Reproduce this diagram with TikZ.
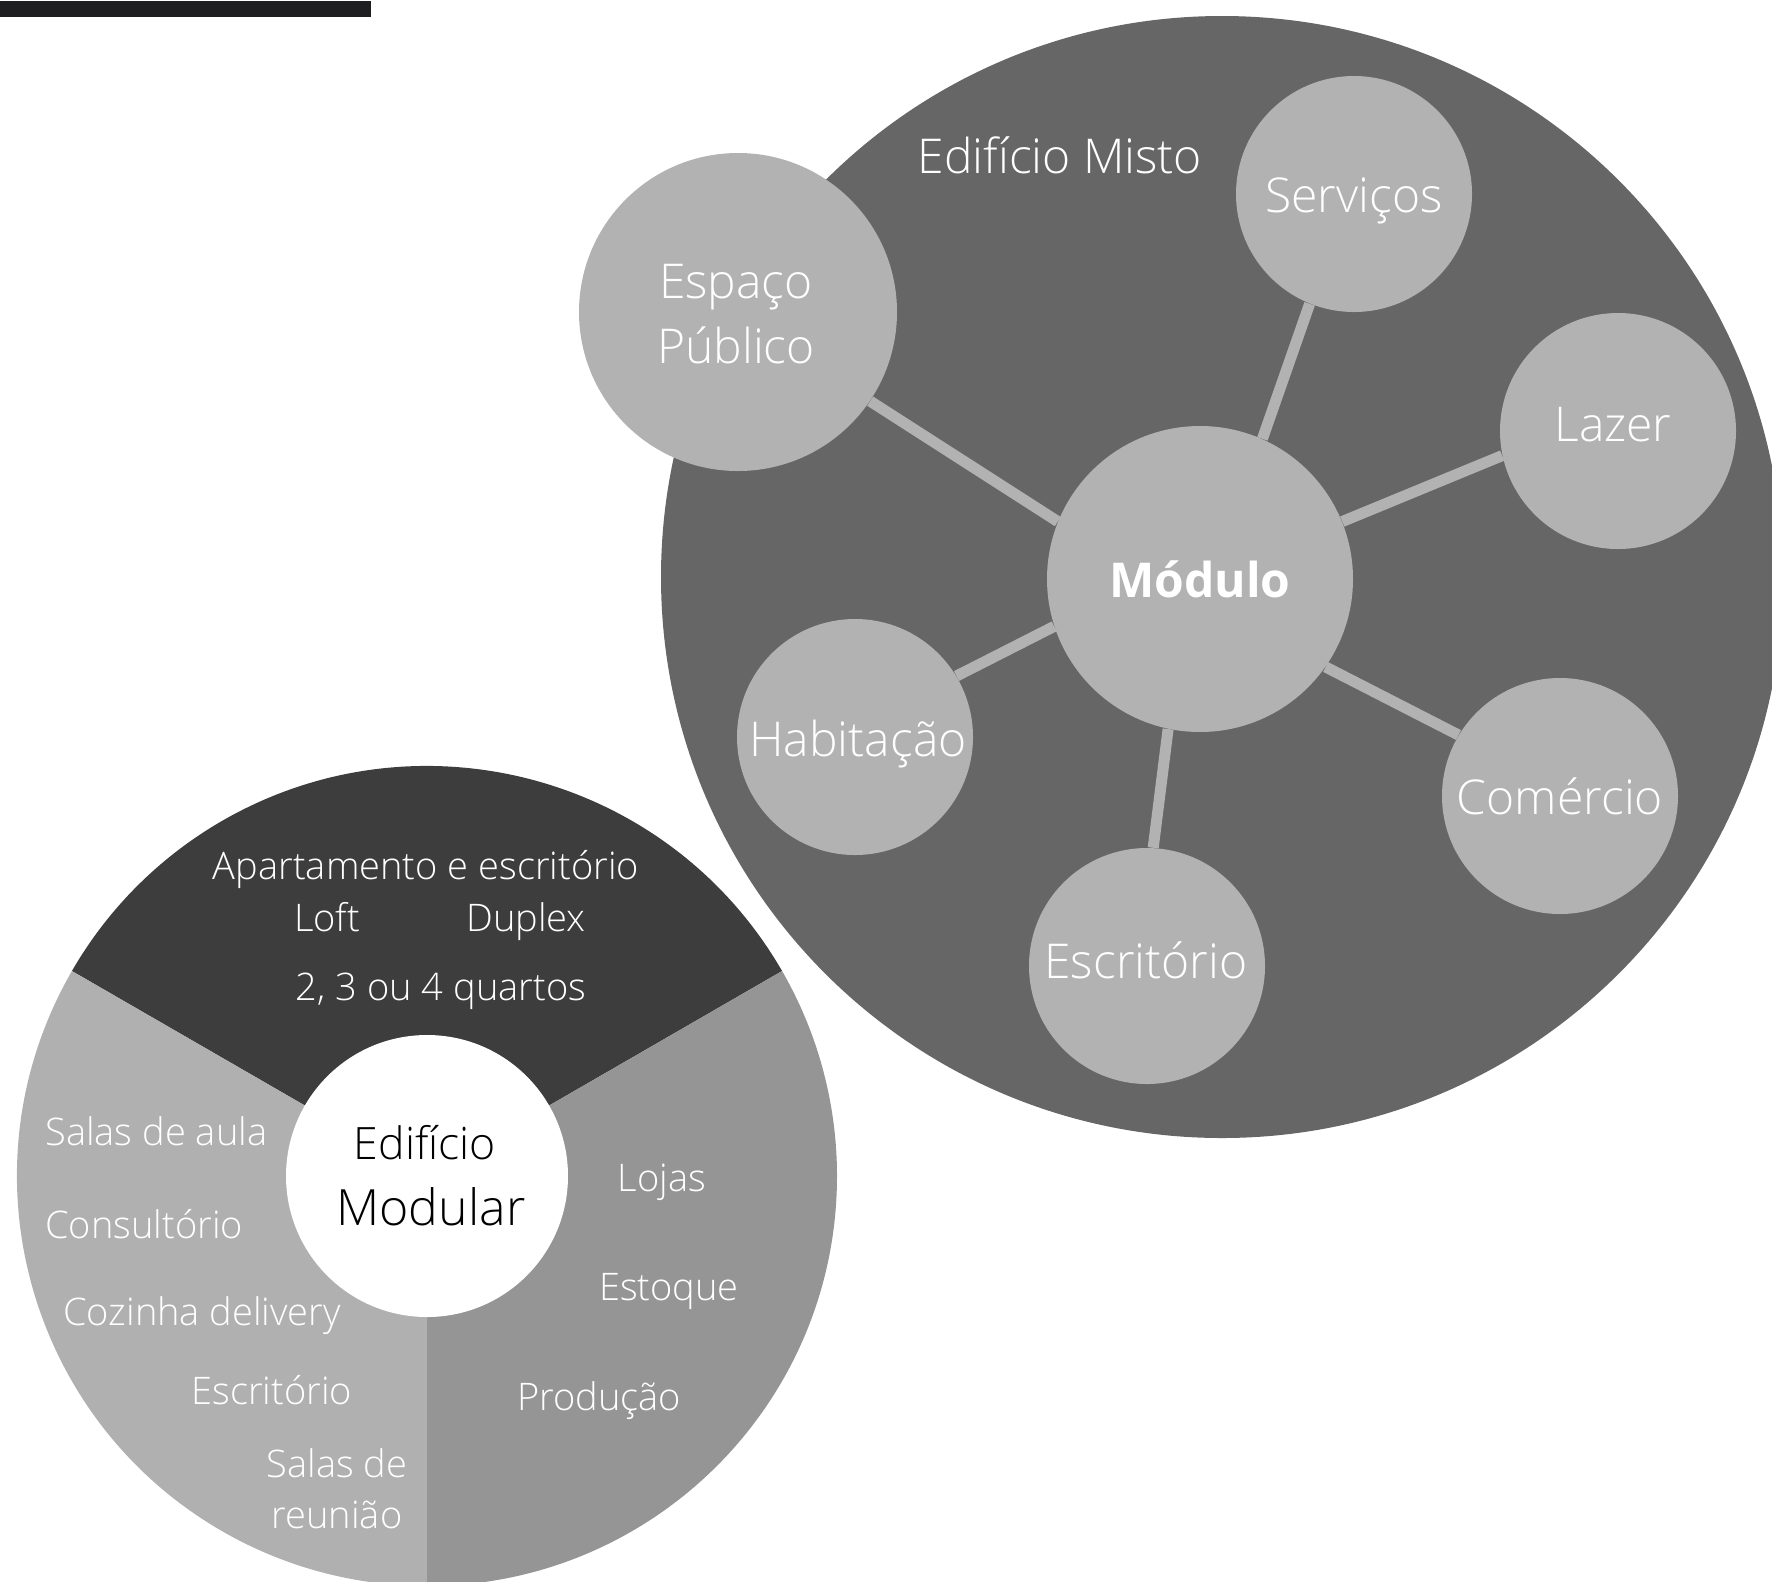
\documentclass[tikz,border=0pt]{standalone}
\usepackage{fontspec}
\setmainfont{Open Sans Light}[BoldFont={Open Sans Bold}]
\definecolor{biggray}{HTML}{666666}
\definecolor{bubblegray}{HTML}{B2B2B2}
\definecolor{topsec}{HTML}{3D3D3D}
\definecolor{leftsec}{HTML}{B0B0B0}
\definecolor{rightsec}{HTML}{959595}
\definecolor{barcol}{HTML}{1F1E21}
\tikzset{
  bubble/.style={circle, fill=bubblegray, inner sep=0pt},
  btext/.style={text=white, inner sep=0pt, align=center,
    font=\fontsize{24}{32.5}\selectfont},
  link/.style={draw=bubblegray, line width=5.5pt},
  lbl/.style={text=white, inner sep=0pt, font=\fontsize{19}{22}\selectfont},
  biglbl/.style={text=white, inner sep=0pt, font=\fontsize{24}{28}\selectfont}
}
\begin{document}
\begin{tikzpicture}[x=0.5pt,y=0.5pt]
\useasboundingbox (0,0) rectangle (1772,-1581);
\clip (0,0) rectangle (1772,-1581);
% top bar
\fill[barcol] (0,-1) rectangle (371,-17);
% big circle
\node[circle, fill=biggray, minimum size=561pt, inner sep=0pt] (misto) at (1222,-577) {};
\node[biglbl] (mistolbl) at (1060,-155) {Edifício Misto};
% bubbles
\node[bubble, minimum size=153pt] (mod) at (1200,-579) {};
\node[bubble, minimum size=159pt] (esp) at (738,-312) {};
\node[bubble, minimum size=118pt] (serv) at (1354,-194) {};
\node[bubble, minimum size=118pt] (laz) at (1618,-431) {};
\node[bubble, minimum size=118pt] (hab) at (855,-737) {};
\node[bubble, minimum size=118pt] (com) at (1560,-796) {};
\node[bubble, minimum size=118pt] (esc) at (1147,-966) {};
% connectors
\draw[link] (esp.326) -- (mod.158);
\draw[link] (serv.248) -- (mod.66);
\draw[link] (laz.192) -- (mod.22);
\draw[link] (hab.31) -- (mod.198);
\draw[link] (com.149) -- (mod.325);
\draw[link] (esc.87) -- (mod.258);
% bubble texts
\node[btext] (modt) at (1200,-579) {\bfseries Módulo};
\node[btext] (espt) at (736,-314) {Espaço\\Público};
\node[btext] (servt) at (1354,-201) {Serviços};
\node[btext] (lazt) at (1613,-425) {Lazer};
\node[btext] (habt) at (858,-744) {Habitação};
\node[btext] (comt) at (1560,-796) {Comércio};
\node[btext] (esct) at (1146,-960) {Escritório};
% pie
\coordinate (pc) at (427,-1176);
\fill[topsec] (pc) -- ++(30:205pt) arc[start angle=30,end angle=150,radius=205pt] -- cycle;
\fill[leftsec] (pc) -- ++(150:205pt) arc[start angle=150,end angle=270,radius=205pt] -- cycle;
\fill[rightsec] (pc) -- ++(270:205pt) arc[start angle=270,end angle=390,radius=205pt] -- cycle;
\node[circle, fill=white, minimum size=141pt, inner sep=0pt] (core) at (pc) {};
\node[inner sep=0pt, font=\fontsize{22.3}{25}\selectfont] (c1) at (425,-1143) {Edifício};
\node[inner sep=0pt, font=\fontsize{25}{28}\selectfont] (c2) at (431,-1207) {Modular};
% top sector texts
\node[lbl] (t1) at (426,-869) {Apartamento e escritório};
\node[lbl] (t2) at (327,-917) {Loft};
\node[lbl] (t3) at (526,-922) {Duplex};
\node[lbl] (t4) at (441,-991) {2, 3 ou 4 quartos};
% left sector texts
\node[lbl, anchor=west] (l1) at (45,-1131) {Salas de aula};
\node[lbl, anchor=west] (l2) at (45,-1224) {Consultório};
\node[lbl, anchor=west] (l3) at (63,-1316) {Cozinha delivery};
\node[lbl, anchor=west] (l4) at (191,-1390) {Escritório};
\node[lbl] (l5) at (337,-1463) {Salas de};
\node[lbl] (l6) at (337,-1515) {reunião};
% right sector texts
\node[lbl] (r1) at (662,-1182) {Lojas};
\node[lbl] (r2) at (669,-1291) {Estoque};
\node[lbl] (r3) at (599,-1401) {Produção};
\end{tikzpicture}
\end{document}
